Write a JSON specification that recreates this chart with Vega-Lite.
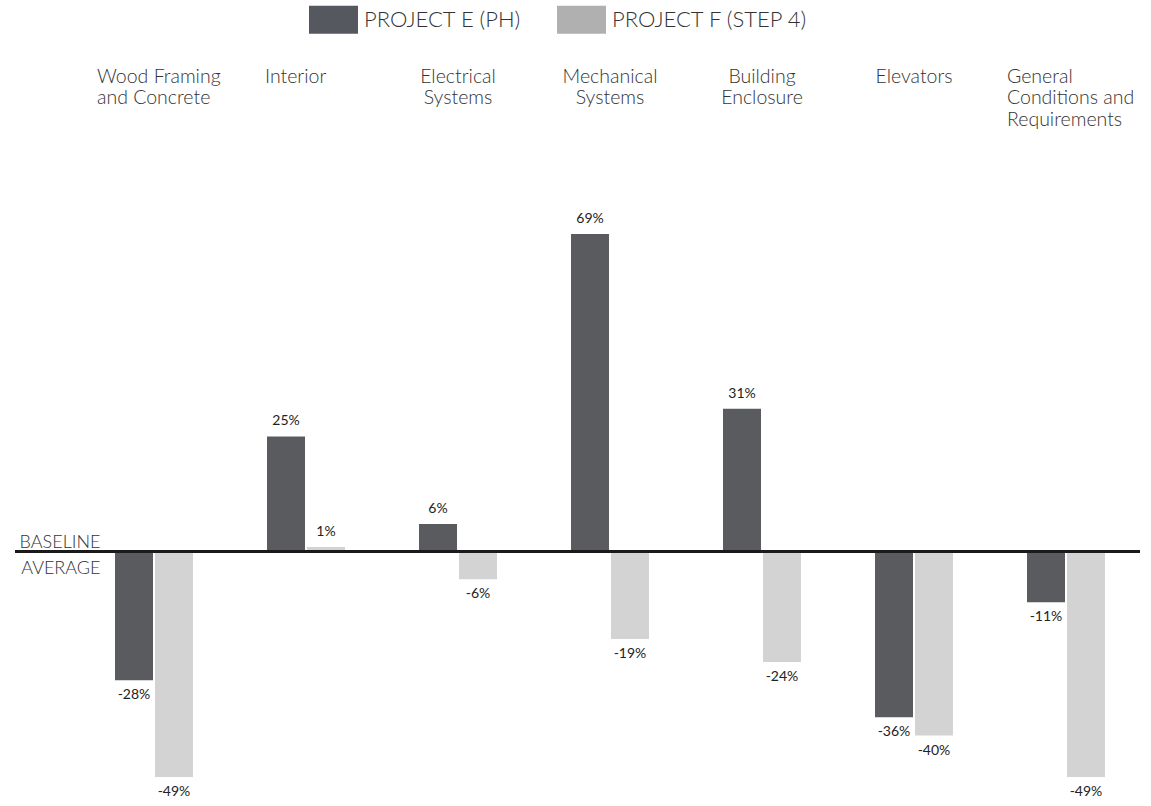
{
  "$schema": "https://vega.github.io/schema/vega-lite/v6.json",
  "width": 1125,
  "height": 806,
  "padding": {"left": 15, "top": 0, "right": 11, "bottom": 0},
  "autosize": {"type": "none"},
  "background": "white",
  "config": {"view": {"stroke": null}, "font": "Lato"},
  "data": {
    "values": [
      {"category": "Wood Framing and Concrete", "project": "PROJECT E (PH)", "value": -28},
      {"category": "Wood Framing and Concrete", "project": "PROJECT F (STEP 4)", "value": -49},
      {"category": "Interior", "project": "PROJECT E (PH)", "value": 25},
      {"category": "Interior", "project": "PROJECT F (STEP 4)", "value": 1},
      {"category": "Electrical Systems", "project": "PROJECT E (PH)", "value": 6},
      {"category": "Electrical Systems", "project": "PROJECT F (STEP 4)", "value": -6},
      {"category": "Mechanical Systems", "project": "PROJECT E (PH)", "value": 69},
      {"category": "Mechanical Systems", "project": "PROJECT F (STEP 4)", "value": -19},
      {"category": "Building Enclosure", "project": "PROJECT E (PH)", "value": 31},
      {"category": "Building Enclosure", "project": "PROJECT F (STEP 4)", "value": -24},
      {"category": "Elevators", "project": "PROJECT E (PH)", "value": -36},
      {"category": "Elevators", "project": "PROJECT F (STEP 4)", "value": -40},
      {"category": "General Conditions and Requirements", "project": "PROJECT E (PH)", "value": -11},
      {"category": "General Conditions and Requirements", "project": "PROJECT F (STEP 4)", "value": -49}
    ]
  },
  "transform": [{"calculate": "datum.value + '%'", "as": "label"}],
  "encoding": {
    "x": {
      "field": "category",
      "type": "nominal",
      "sort": null,
      "scale": {"range": [63, 1127], "paddingInner": 0, "paddingOuter": 0},
      "axis": {
        "orient": "top",
        "title": null,
        "domain": false,
        "ticks": false,
        "tickSize": 0,
        "offset": -67,
        "labelPadding": 0,
        "labelBaseline": "top",
        "labelFontSize": 19.5,
        "labelFontWeight": 300,
        "labelLineHeight": 21.5,
        "labelColor": "#333333",
        "labelAngle": 0,
        "labelLimit": 0,
        "labelAlign": {"condition": {"test": "datum.value == 'Wood Framing and Concrete' || datum.value == 'Interior' || datum.value == 'General Conditions and Requirements'", "value": "left"}, "value": "center"},
        "labelOffset": {"condition": [{"test": "datum.value == 'Wood Framing and Concrete'", "value": -57}, {"test": "datum.value == 'Interior'", "value": -41}, {"test": "datum.value == 'General Conditions and Requirements'", "value": -59}], "value": 0},
        "labelExpr": "datum.value == 'Wood Framing and Concrete' ? ['Wood Framing', 'and Concrete'] : datum.value == 'Electrical Systems' ? ['Electrical', 'Systems'] : datum.value == 'Mechanical Systems' ? ['Mechanical', 'Systems'] : datum.value == 'Building Enclosure' ? ['Building', 'Enclosure'] : datum.value == 'General Conditions and Requirements' ? ['General', 'Conditions and', 'Requirements'] : datum.value"
      }
    },
    "xOffset": {
      "field": "project",
      "type": "nominal",
      "sort": null,
      "scale": {"paddingInner": 0.05, "paddingOuter": 0.925}
    },
    "y": {
      "field": "value",
      "type": "quantitative",
      "scale": {"domain": [-49, 69], "range": [777, 234], "nice": false, "zero": false},
      "axis": {
        "orient": "left",
        "title": null,
        "values": [0],
        "domain": false,
        "ticks": false,
        "tickSize": 0,
        "grid": false,
        "offset": -85,
        "labelPadding": 0,
        "labelAlign": "right",
        "labelBaseline": "middle",
        "labelOffset": -9,
        "labelFontSize": 18,
        "labelFontWeight": 300,
        "labelLineHeight": 26,
        "labelColor": "#333333",
        "labelExpr": "['BASELINE', 'AVERAGE']"
      }
    }
  },
  "layer": [
    {
      "mark": {"type": "bar", "opacity": 0},
      "encoding": {
        "fill": {
          "field": "project",
          "type": "nominal",
          "sort": null,
          "scale": {"range": ["#55585e", "#b0b0b0"]},
          "legend": {
            "orient": "none",
            "legendX": 294,
            "legendY": -5,
            "direction": "horizontal",
            "title": null,
            "symbolType": "M-1,-0.571H1V0.571H-1Z",
            "symbolSize": 2401,
            "symbolOpacity": 1,
            "symbolStrokeWidth": 0,
            "labelFontSize": 22,
            "labelFontWeight": 300,
            "labelOffset": 6,
            "labelColor": "#333333",
            "columnPadding": 36,
            "labelLimit": 0
          }
        }
      }
    },
    {
      "mark": {"type": "bar"},
      "encoding": {
        "color": {
          "field": "project",
          "type": "nominal",
          "sort": null,
          "scale": {"range": ["#5a5b5f", "#d3d3d3"]},
          "legend": null
        }
      }
    },
    {
      "transform": [{"filter": "datum.value >= 0"}],
      "mark": {"type": "text", "baseline": "alphabetic", "dy": -11, "fontSize": 14, "color": "#222222"},
      "encoding": {"text": {"field": "label"}}
    },
    {
      "transform": [{"filter": "datum.value < 0"}],
      "mark": {"type": "text", "baseline": "top", "dy": 8, "fontSize": 14, "color": "#222222"},
      "encoding": {"text": {"field": "label"}}
    },
    {
      "mark": {"type": "rule", "color": "#1a1a1a", "strokeWidth": 2},
      "encoding": {"y": {"datum": 0}, "x": null, "xOffset": null}
    }
  ]
}
